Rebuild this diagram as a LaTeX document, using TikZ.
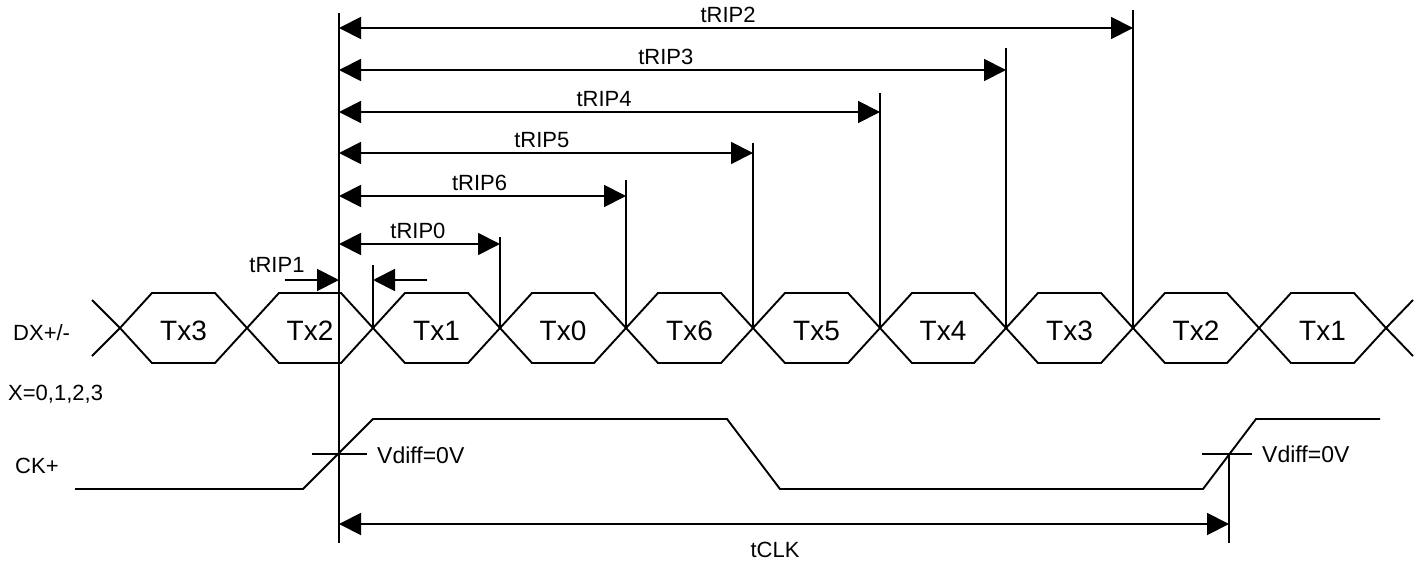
\documentclass[tikz,border=0pt]{standalone}
\usepackage{fontspec}
\setmainfont{Liberation Sans}
\usetikzlibrary{arrows.meta}

\tikzset{
  sig/.style={line width=1.9pt},
  dimarr/.style={line width=1.9pt, {Triangle[length=22pt,width=22pt]}-{Triangle[length=22pt,width=22pt]}},
  onearr/.style={line width=1.9pt, -{Triangle[length=22pt,width=22pt]}},
  lbl/.style={font=\fontsize{22}{26}\selectfont, inner sep=0pt},
  txlbl/.style={font=\fontsize{28}{32}\selectfont, inner sep=0pt},
}

\begin{document}
\begin{tikzpicture}[x=1pt, y=-1pt]
    \useasboundingbox (0,0) rectangle (1425,565);

    % Points de croisement du signal DX
    \foreach \i in {0,...,10} {
        \coordinate (c\i) at ({round(120+126.6*\i)},328);
    }

    % === DX+/- ===
    \node[lbl, anchor=base west] (dxlbl) at (13,340) {DX+/-};
    \node[lbl, anchor=base west] (xlbl) at (8,400) {X=0,1,2,3};

    % Bouts gauche et droit
    \coordinate (dl1) at (92,300);
    \coordinate (dl2) at (92,356);
    \coordinate (dr1) at (1413,300);
    \coordinate (dr2) at (1413,356);
    \draw[sig] (dl1) -- (c0) -- (dl2);
    \draw[sig] (dr1) -- (c10) -- (dr2);

    % Les yeux
    \foreach \i/\txt in {0/Tx3, 1/Tx2, 2/Tx1, 3/Tx0, 4/Tx6, 5/Tx5, 6/Tx4, 7/Tx3, 8/Tx2, 9/Tx1} {
        \pgfmathsetmacro\xa{round(120+126.6*\i)}
        \pgfmathsetmacro\xb{round(120+126.6*(\i+1))}
        \draw[sig] (\xa,328) -- (\xa+32,293) -- (\xb-32,293) -- (\xb,328) -- (\xb-32,363) -- (\xa+32,363) -- cycle;
        \node[txlbl, anchor=base] (tx\i) at ({(\xa+\xb)/2},340) {\txt};
    }

    % Ligne de reference
    \coordinate (reftop) at (339,13);
    \coordinate (refbot) at (339,543);
    \draw[sig] (reftop) -- (refbot);

    % Cotes tRIP
    \foreach \i/\ytop/\yy/\txt in {8/10/28/tRIP2, 7/48/70/tRIP3, 6/93/112/tRIP4, 5/143/153/tRIP5, 4/180/196/tRIP6, 3/237/244/tRIP0} {
        \pgfmathsetmacro\xm{round(120+126.6*\i)}
        \coordinate (m\i) at (\xm,\ytop);
        \coordinate (a\i) at (339,\yy);
        \coordinate (b\i) at (\xm,\yy);
        \draw[sig] (c\i) -- (m\i);
        \draw[dimarr] (a\i) -- node[lbl, above=4pt, pos=0.49] {\txt} (b\i);
    }

    % tRIP1
    \coordinate (m2) at (373,265);
    \draw[sig] (c2) -- (m2);
    \coordinate (p1) at (285,280);
    \coordinate (p2) at (339,280);
    \coordinate (p3) at (427,280);
    \coordinate (p4) at (373,280);
    \draw[onearr] (p1) -- (p2);
    \draw[onearr] (p3) -- (p4);
    \node[lbl, anchor=base] (trip1) at (277,272) {tRIP1};

    % === CK+ ===
    \node[lbl, anchor=base west] (cklbl) at (15,473) {CK+};
    \coordinate (ck0) at (75,489);
    \coordinate (ck1) at (303,489);
    \coordinate (ck2) at (373,419);
    \coordinate (ck3) at (727,419);
    \coordinate (ck4) at (780,489);
    \coordinate (ck5) at (1203,489);
    \coordinate (ck6) at (1256,419);
    \coordinate (ck7) at (1380,419);
    \draw[sig] (ck0) -- (ck1) -- (ck2) -- (ck3) -- (ck4) -- (ck5) -- (ck6) -- (ck7);

    % Seuils Vdiff
    \coordinate (v1a) at (312,454);
    \coordinate (v1b) at (367,454);
    \coordinate (v2a) at (1202,454);
    \coordinate (v2b) at (1252,454);
    \draw[sig] (v1a) -- (v1b);
    \draw[sig] (v2a) -- (v2b);
    \node[font=\fontsize{23}{27}\selectfont, inner sep=0pt, anchor=base west] (vd1) at (377,463) {Vdiff=0V};
    \node[font=\fontsize{23}{27}\selectfont, inner sep=0pt, anchor=base west] (vd2) at (1262,462) {Vdiff=0V};

    % tCLK
    \coordinate (ckx) at (1229,454);
    \coordinate (ckbot) at (1229,543);
    \draw[sig] (ckx) -- (ckbot);
    \coordinate (k1) at (339,524);
    \coordinate (k2) at (1229,524);
    \draw[dimarr] (k1) -- (k2);
    \node[lbl, anchor=base] (tclk) at (775,557) {tCLK};
\end{tikzpicture}
\end{document}
